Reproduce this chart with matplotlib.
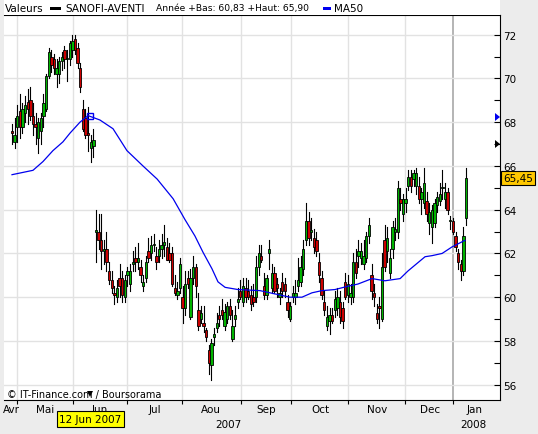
import matplotlib
matplotlib.use("Agg")
import matplotlib.pyplot as plt
from matplotlib.patches import Rectangle, Polygon

W, H = 538, 435

# daily candles (open, high, low, close), late Apr 2007 -> early Jan 2008
candles = [
    (67.6, 67.9, 67.0, 67.5), (67.1, 68.2, 66.8, 67.4), (67.8, 68.8, 67.1, 68.3),
    (68.5, 69.3, 67.3, 67.8), (67.8, 68.9, 67.5, 68.6), (68.4, 69.2, 68.0, 68.8),
    (68.9, 69.5, 67.9, 68.6), (69.0, 69.6, 68.1, 68.3), (68.3, 68.9, 67.4, 67.9),
    (67.9, 68.4, 67.0, 67.8), (67.3, 68.2, 66.6, 68.0), (67.6, 68.4, 67.0, 68.2),
    (68.3, 69.3, 67.8, 68.9), (68.6, 70.2, 68.5, 70.1), (70.1, 71.4, 70.0, 71.2),
    (71.0, 71.3, 70.3, 70.6), (70.9, 71.1, 70.2, 70.5), (70.2, 70.9, 69.6, 70.5),
    (70.2, 71.0, 69.8, 70.8), (70.8, 71.2, 70.4, 71.0), (71.3, 71.5, 70.5, 70.9),
    (70.9, 71.3, 69.9, 70.9), (70.9, 71.7, 70.6, 71.6), (71.3, 72.0, 71.0, 71.7),
    (71.8, 72.0, 71.1, 71.3), (71.4, 71.6, 70.5, 70.7), (70.5, 70.7, 69.4, 69.6),
    (68.6, 69.0, 67.6, 67.7), (68.2, 68.6, 67.3, 67.4), (67.5, 68.7, 66.7, 67.4),
    (66.8, 67.4, 66.2, 67.1), (66.9, 67.7, 66.4, 67.2),
    (63.0, 64.0, 61.6, 63.05), (63.0, 63.8, 62.2, 62.6), (62.6, 63.8, 61.3, 62.1),
    (62.1, 62.6, 61.5, 62.2), (62.2, 63.0, 61.2, 61.6), (61.2, 61.6, 60.6, 60.8),
    (60.8, 61.2, 60.2, 60.4), (60.2, 60.5, 59.7, 60.1), (60.0, 60.8, 59.8, 60.4),
    (60.9, 61.5, 60.0, 60.5), (60.9, 61.2, 59.8, 60.1), (60.0, 61.0, 59.8, 60.8),
    (61.0, 61.4, 60.5, 61.2),
    (60.6, 61.5, 60.3, 61.2), (61.5, 62.1, 61.2, 61.6), (61.8, 62.3, 61.2, 61.6),
    (61.6, 62.5, 61.3, 61.8), (61.4, 61.7, 60.7, 61.0), (60.5, 61.0, 60.3, 60.7),
    (60.9, 61.9, 60.7, 61.6), (62.1, 62.7, 61.6, 61.8), (62.0, 62.8, 61.7, 62.4),
    (62.4, 62.9, 62.1, 62.45), (61.9, 62.3, 61.3, 61.6), (61.9, 62.6, 61.6, 62.2),
    (62.2, 62.9, 61.8, 62.4), (62.4, 63.3, 61.9, 62.5), (62.3, 62.7, 61.7, 61.7),
    (62.0, 62.5, 61.6, 61.7), (62.0, 62.3, 60.5, 60.6), (60.4, 61.0, 60.1, 60.2),
    (60.1, 60.7, 59.9, 60.3), (60.4, 61.8, 60.2, 61.5), (60.0, 60.5, 58.8, 59.5),
    (59.5, 61.2, 59.2, 60.6), (60.9, 61.2, 60.4, 60.6), (59.1, 61.3, 59.0, 60.9),
    (60.9, 61.9, 60.6, 61.4), (61.4, 61.5, 60.0, 60.5), (59.4, 60.2, 58.5, 58.7),
    (59.0, 59.6, 58.8, 59.3), (58.8, 59.6, 58.4, 58.7), (58.5, 58.6, 58.0, 58.2),
    (57.6, 57.8, 56.5, 57.0), (56.9, 58.1, 56.2, 57.9), (58.2, 58.6, 57.8, 58.3),
    (58.6, 59.3, 58.4, 58.8), (59.2, 59.6, 58.7, 59.0), (59.4, 59.9, 59.0, 59.2),
    (58.7, 59.7, 58.5, 59.3), (59.0, 59.8, 58.8, 59.6), (59.6, 59.9, 59.0, 59.2),
    (58.1, 59.4, 58.0, 58.7), (59.0, 59.6, 58.7, 59.2), (59.8, 60.4, 59.5, 59.9),
    (60.3, 60.8, 59.9, 60.0), (59.8, 60.9, 59.6, 60.5), (60.4, 60.9, 59.8, 60.0),
    (60.3, 60.8, 59.9, 60.0), (60.1, 60.5, 59.4, 59.7), (60.0, 60.6, 59.6, 59.8),
    (60.0, 61.9, 59.8, 61.4), (61.4, 62.4, 61.0, 62.0), (61.9, 62.4, 61.6, 61.7),
    (60.5, 61.1, 59.9, 60.1), (60.1, 61.0, 59.9, 60.9), (62.0, 62.6, 61.3, 62.2),
    (60.4, 61.5, 60.2, 61.1), (61.1, 61.4, 60.2, 60.3), (60.6, 60.9, 60.0, 60.4),
    (60.0, 60.4, 59.7, 60.2), (60.7, 61.1, 60.0, 60.3), (60.6, 60.9, 60.0, 60.3),
    (59.8, 60.1, 59.1, 59.4), (59.0, 59.8, 58.9, 59.6), (60.0, 60.5, 59.8, 60.2),
    (60.0, 60.8, 59.7, 60.2), (60.5, 61.8, 60.3, 60.8), (60.7, 61.9, 60.5, 61.4),
    (61.3, 62.6, 61.0, 62.2), (62.6, 64.3, 62.4, 63.5), (63.5, 63.9, 62.4, 62.7),
    (63.0, 63.6, 62.6, 63.05), (62.7, 63.1, 62.0, 62.3), (62.6, 63.0, 61.9, 62.1),
    (61.6, 62.0, 60.7, 61.0), (60.9, 61.2, 59.9, 60.1), (59.8, 60.3, 59.2, 59.4),
    (58.7, 59.6, 58.5, 59.1), (58.9, 59.5, 58.3, 59.2), (59.2, 59.5, 58.8, 58.9),
    (59.4, 60.3, 59.1, 59.9), (59.5, 60.4, 59.2, 60.0), (59.8, 60.3, 58.8, 59.1),
    (59.5, 59.8, 58.6, 58.9), (60.7, 61.1, 59.9, 60.0), (60.1, 61.0, 59.8, 60.6),
    (60.0, 60.6, 59.7, 60.2), (60.0, 62.0, 59.8, 61.6), (61.6, 62.2, 60.9, 61.1),
    (61.9, 62.6, 61.4, 62.1), (61.8, 62.5, 61.5, 62.1), (61.5, 62.6, 61.3, 61.9),
    (61.8, 63.0, 61.6, 62.8), (62.8, 63.6, 62.5, 63.3), (61.0, 61.5, 59.9, 60.3),
    (60.2, 60.6, 59.6, 60.0), (59.3, 59.7, 58.8, 59.0), (59.6, 60.0, 58.6, 59.5),
    (59.0, 62.0, 58.9, 61.4), (62.6, 63.3, 61.2, 61.4), (62.1, 63.2, 61.6, 62.7),
    (61.1, 62.2, 60.9, 61.8), (62.2, 63.5, 61.8, 63.2), (63.0, 63.6, 62.6, 63.1),
    (63.0, 65.3, 62.7, 65.0), (64.5, 65.0, 64.0, 64.3), (63.8, 64.7, 63.5, 64.5),
    (64.3, 65.0, 63.9, 64.5), (65.1, 65.8, 64.9, 65.5), (65.5, 65.8, 64.8, 65.1),
    (65.4, 65.8, 65.1, 65.7), (65.1, 65.9, 64.7, 65.7), (65.1, 65.5, 64.3, 64.5),
    (64.5, 65.0, 63.8, 64.8), (64.3, 65.9, 64.1, 65.2), (64.4, 64.8, 63.5, 63.8),
    (63.4, 64.3, 62.9, 63.9), (63.2, 64.2, 62.5, 64.0), (63.4, 64.5, 63.2, 64.3),
    (64.2, 64.8, 63.9, 64.6), (64.4, 65.2, 64.2, 64.7), (65.0, 65.8, 64.5, 65.05),
    (64.5, 65.2, 64.1, 64.8), (64.8, 65.0, 63.8, 64.0), (63.5, 63.7, 63.1, 63.55),
    (63.5, 63.6, 62.9, 63.0), (62.8, 63.0, 62.1, 62.3), (62.0, 62.2, 61.3, 61.6),
    (61.5, 61.7, 60.8, 61.2), (61.2, 63.2, 61.0, 62.8), (63.6, 65.9, 63.3, 65.45),
]

# MA50, read at candle index positions
ma_day = [0, 8.0, 11.8, 15.6, 19.4, 22.1, 25.9, 29.0, 33.5, 38.5, 43.8, 49.9, 55.3,
          61.4, 65.9, 69.7, 72.8, 76.2, 78.5, 81.2, 86.1, 94.5, 105.9, 110.5, 114.3,
          118.1, 123.1, 128.0, 131.8, 137.2, 142.1, 147.9, 150.9, 157.4, 160.1,
          163.9, 167.7, 172.6]
ma_val = [65.6, 65.8, 66.2, 66.7, 67.1, 67.5, 68.0, 68.3, 68.1, 67.7, 66.7, 66.0, 65.4,
          64.5, 63.55, 62.8, 62.05, 61.3, 60.7, 60.45, 60.35, 60.3, 60.0, 60.0, 60.2,
          60.3, 60.35, 60.5, 60.6, 60.85, 60.75, 60.85, 61.2, 61.85, 61.9, 62.0,
          62.3, 62.6]

month_labels = ["Avr", "Mai", "Jun", "Jul", "Aou", "Sep", "Oct", "Nov", "Dec", "Jan"]
month_label_px = [11, 45, 100, 155, 211, 266, 320, 377, 430, 475]
month_tick_px = [17, 73, 127, 182, 241, 291, 348, 405, 453]

n = len(candles)
step = (466 - 12) / (n - 1)


def px_to_idx(px):
    return (px - 12) / step


def fx(px):
    return px / W


def fy(py):
    return 1 - py / H


fig = plt.figure(figsize=(W / 100, H / 100), dpi=100)
fig.patch.set_facecolor("#ececec")
# white header strip
fig.patches.append(Rectangle((fx(4), fy(16)), 496 / W, 16 / H, transform=fig.transFigure,
                             facecolor="white", edgecolor="none", zorder=0))
ax = fig.add_axes([fx(4), fy(401), 496 / W, 385 / H])
ax.set_facecolor("white")
ax.set_xlim(px_to_idx(4), px_to_idx(500))
ax.set_ylim(55.3, 72.9)

for t in month_tick_px[:-1]:
    ax.axvline(px_to_idx(t), color="#e2e2e2", lw=1, zorder=0)
ax.axvline(px_to_idx(453), color="#a8a8a8", lw=1.2, zorder=0)
for y in range(56, 73, 2):
    ax.axhline(y, color="#e2e2e2", lw=1, zorder=0)

for i, (o, h, l, c) in enumerate(candles):
    ax.plot([i, i], [l, h], color="black", lw=0.8, zorder=2)
    col = "#00b400" if c >= o else "#cc0000"
    lo, hi = min(o, c), max(o, c)
    ax.add_patch(Rectangle((i - 0.45, lo), 0.9, max(hi - lo, 0.04), facecolor=col,
                           edgecolor="black", lw=0.6, zorder=3))

ax.plot(ma_day, ma_val, color="#0000ee", lw=0.9, zorder=4)
ax.plot([px_to_idx(90)], [68.3], marker="s", ms=5, mfc="none", mec="#0000ee", mew=1, zorder=5)

ax.spines["left"].set_visible(False)
for s in ["top", "right", "bottom"]:
    ax.spines[s].set_color("black")

ax.yaxis.tick_right()
ax.set_yticks(range(56, 73, 2))
ax.set_yticks(range(57, 73, 2), minor=True)
ax.tick_params(axis="y", which="both", direction="in", length=4, width=0.8, labelsize=7.5, pad=2)
ax.set_xticks([px_to_idx(t) for t in month_tick_px])
ax.set_xticklabels([])
ax.tick_params(axis="x", direction="out", length=3, width=0.8)

for lab, px in zip(month_labels, month_label_px):
    fig.text(fx(px), fy(410), lab, ha="center", va="center", fontsize=7.5)
fig.text(fx(228), fy(425), "2007", ha="center", va="center", fontsize=7.5)
fig.text(fx(473), fy(425), "2008", ha="center", va="center", fontsize=7.5)

# header
fig.text(fx(5), fy(9), "Valeurs", va="center", fontsize=7.5)
fig.patches.append(Rectangle((fx(50), fy(10.5)), 11 / W, 3 / H, transform=fig.transFigure,
                             facecolor="black", edgecolor="none"))
fig.text(fx(65), fy(9), "SANOFI-AVENTI", va="center", fontsize=7.5)
fig.text(fx(156), fy(9), "Année +Bas: 60,83 +Haut: 65,90", va="center", fontsize=6.6)
fig.patches.append(Rectangle((fx(323), fy(10.5)), 8 / W, 3 / H, transform=fig.transFigure,
                             facecolor="#0000ee", edgecolor="none"))
fig.text(fx(334), fy(9), "MA50", va="center", fontsize=7.5)

# right side markers
fig.patches.append(Polygon([(fx(495), fy(114)), (fx(495), fy(122)), (fx(500), fy(118))],
                           closed=True, transform=fig.transFigure, facecolor="#0000ee", edgecolor="none"))
fig.patches.append(Polygon([(fx(495), fy(141)), (fx(495), fy(149)), (fx(500), fy(145))],
                           closed=True, transform=fig.transFigure, facecolor="black", edgecolor="none"))
fig.text(fx(518), fy(179), "65,45", ha="center", va="center", fontsize=7.5,
         bbox=dict(boxstyle="square,pad=0.2", facecolor="#ffc800", edgecolor="black", lw=0.8))

# footer
fig.text(fx(7), fy(395), "© IT-Finance.com / Boursorama", va="center", fontsize=7)
fig.patches.append(Polygon([(fx(87), fy(392)), (fx(93), fy(392)), (fx(90), fy(398))],
                           closed=True, transform=fig.transFigure, facecolor="black", edgecolor="none"))
fig.text(fx(90.5), fy(420), "12 Jun 2007", ha="center", va="center", fontsize=7.5,
         bbox=dict(boxstyle="square,pad=0.25", facecolor="#ffff00", edgecolor="black", lw=0.8))

fig.savefig("out.png", dpi=100, facecolor=fig.get_facecolor())
